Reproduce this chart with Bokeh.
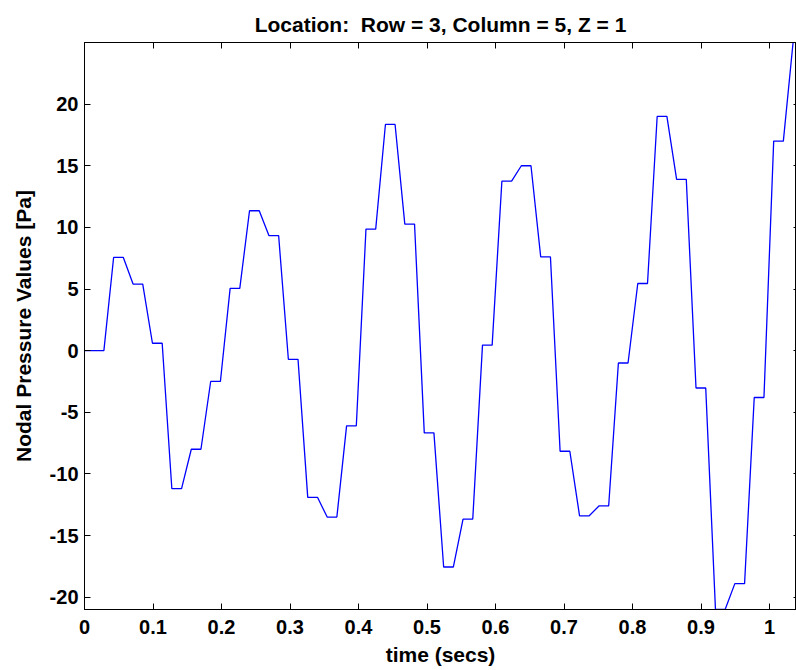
from bokeh.plotting import figure
from bokeh.models import LinearAxis, FixedTicker, Range1d, Title, CustomJSTickFormatter
from bokeh.embed import file_html
from bokeh.resources import INLINE

# ---- data ----
time_secs = [0.0, 0.0142, 0.0283, 0.0425, 0.0567, 0.0709, 0.0850, 0.0992, 0.1134, 0.1275,
             0.1417, 0.1559, 0.1700, 0.1842, 0.1984, 0.2126, 0.2267, 0.2409, 0.2551, 0.2692,
             0.2834, 0.2976, 0.3117, 0.3259, 0.3401, 0.3543, 0.3684, 0.3826, 0.3968, 0.4109,
             0.4251, 0.4393, 0.4534, 0.4676, 0.4818, 0.4960, 0.5101, 0.5243, 0.5385, 0.5526,
             0.5668, 0.5810, 0.5951, 0.6093, 0.6235, 0.6377, 0.6518, 0.6660, 0.6802, 0.6943,
             0.7085, 0.7227, 0.7368, 0.7510, 0.7652, 0.7794, 0.7935, 0.8077, 0.8219, 0.8360,
             0.8502, 0.8644, 0.8785, 0.8927, 0.9069, 0.9211, 0.9352, 0.9494, 0.9636, 0.9777,
             0.9919, 1.0061, 1.0202, 1.0344]
pressure_pa = [0.0, 0.0, 0.0, 7.56, 7.56, 5.4, 5.4, 0.6, 0.6, -11.2,
               -11.2, -8.0, -8.0, -2.5, -2.5, 5.05, 5.05, 11.35, 11.35, 9.34,
               9.34, -0.7, -0.7, -11.9, -11.9, -13.5, -13.5, -6.1, -6.1, 9.86,
               9.86, 18.35, 18.35, 10.27, 10.27, -6.67, -6.67, -17.55, -17.55, -13.66,
               -13.66, 0.45, 0.45, 13.75, 13.75, 15.0, 15.0, 7.6, 7.6, -8.16,
               -8.16, -13.4, -13.4, -12.6, -12.6, -1.0, -1.0, 5.45, 5.45, 19.0,
               19.0, 13.9, 13.9, -3.03, -3.03, -21.0, -21.0, -18.9, -18.9, -3.8,
               -3.8, 17.0, 17.0, 25.0]

x_ticks = [0.0, 0.1, 0.2, 0.3, 0.4, 0.5, 0.6, 0.7, 0.8, 0.9, 1.0]
x_tick_labels = ["0", "0.1", "0.2", "0.3", "0.4", "0.5", "0.6", "0.7", "0.8", "0.9", "1"]
y_ticks = [-20, -15, -10, -5, 0, 5, 10, 15, 20]
y_tick_labels = ["-20", "-15", "-10", "-5", "0", "5", "10", "15", "20"]

title_text = "Location:\u00a0 Row = 3, Column = 5, Z = 1"
x_label = "time (secs)"
y_label = "Nodal Pressure Values [Pa]"

FONT = "Liberation Sans"

p = figure(width=796, height=670, frame_width=712, frame_height=567,
           x_range=Range1d(0, 1.0394), y_range=Range1d(-21, 25),
           output_backend="svg", toolbar_location=None, title=None,
           x_axis_location=None, y_axis_location=None,
           min_border_left=84, min_border_right=0, min_border_top=42, min_border_bottom=61,
           background_fill_color="white", border_fill_color="white")

p.xgrid.visible = False
p.ygrid.visible = False
p.outline_line_color = "black"
p.outline_line_width = 1

p.line(time_secs, pressure_pa, line_color="#0000ff", line_width=1.3)

blank = CustomJSTickFormatter(code="return '';")

def style_axis(ax, show_labels, tick_in=6):
    ax.axis_line_color = "black"
    ax.major_tick_line_color = "black"
    ax.major_tick_in = tick_in
    ax.major_tick_out = 0
    ax.minor_tick_line_color = None
    if show_labels:
        ax.major_label_text_font = FONT
        ax.major_label_text_font_size = "20px"
        ax.major_label_text_font_style = "bold"
        ax.major_label_text_color = "black"
        ax.axis_label_text_font = FONT
        ax.axis_label_text_font_size = "21px"
        ax.axis_label_text_font_style = "bold"
        ax.axis_label_text_color = "black"
    else:
        ax.formatter = blank
        ax.major_label_standoff = 0
        ax.major_label_text_font_size = "1px"

xb = LinearAxis(ticker=FixedTicker(ticks=x_ticks), axis_label=x_label)
xb.major_label_overrides = {t: l for t, l in zip(x_ticks, x_tick_labels)}
style_axis(xb, True)
xb.major_label_standoff = 10
xb.axis_label_standoff = 6
p.add_layout(xb, "below")

yl = LinearAxis(ticker=FixedTicker(ticks=y_ticks), axis_label=y_label)
yl.major_label_overrides = {t: l for t, l in zip(y_ticks, y_tick_labels)}
style_axis(yl, True)
yl.major_label_standoff = 6
yl.axis_label_standoff = 12
p.add_layout(yl, "left")

yr = LinearAxis(ticker=FixedTicker(ticks=y_ticks))
style_axis(yr, False, tick_in=3)
p.add_layout(yr, "right")

xt = LinearAxis(ticker=FixedTicker(ticks=x_ticks))
style_axis(xt, False)
p.add_layout(xt, "above")

t = Title(text=title_text, align="center", text_font=FONT, text_font_size="21px",
          text_font_style="bold", text_color="black", standoff=14,
          text_line_height=0.7)
p.add_layout(t, "above")

open("out.html", "w").write(file_html(p, INLINE))
